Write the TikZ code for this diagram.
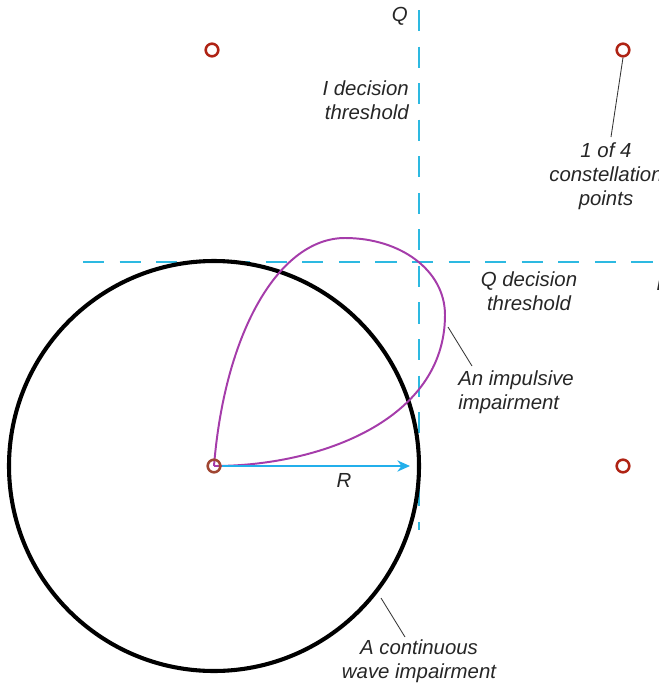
\documentclass[tikz,border=0pt]{standalone}
\usepackage{fontspec}
\setmainfont{Liberation Sans}
\definecolor{ThreshCyan}{RGB}{45,185,225}
\definecolor{ArrowCyan}{RGB}{35,175,235}
\definecolor{ImpPurple}{RGB}{165,60,170}
\definecolor{PointRed}{RGB}{175,35,20}
\definecolor{CenterBrown}{RGB}{160,70,50}
\usetikzlibrary{arrows.meta, positioning, calc}

\begin{document}
\begin{tikzpicture}[
        x=0.025cm, y=-0.025cm,
        threshold/.style={draw=ThreshCyan, line width=1.3pt, dash pattern=on 15pt off 11pt},
        constpt/.style={circle, draw=#1, line width=1.8pt, inner sep=0pt, minimum size=9pt},
        callout/.style={font=\fontsize{14.5}{17}\selectfont\itshape, inner sep=0pt, text=black!85},
        leader/.style={draw=black!80, line width=0.6pt},
    ]
        \useasboundingbox (0,0) rectangle (659,686);
        % decision thresholds
        \coordinate (qtop) at (419,10);
        \coordinate (qbot) at (419,530);
        \coordinate (ileft) at (83,262);
        \coordinate (iright) at (662,262);
        \draw[threshold] (qtop) -- (qbot);
        \draw[threshold] (ileft) -- (iright);
        \node[callout, anchor=north east] (qaxis) at (408,7) {Q};
        \node[callout, anchor=west] (iaxis) at (656,283) {I};
        % continuous wave impairment
        \node[circle, draw=black, line width=2.9pt, minimum size=410*0.025cm, inner sep=0pt] (cw) at (214,466) {};
        % impulsive impairment
        \draw[ImpPurple, line width=1.4pt] (214,466)
            .. controls (225,330) and (280,238) .. (345,238)
            .. controls (400,238) and (445,270) .. (445,315)
            .. controls (445,420) and (320,466) .. (214,466);
        % constellation points
        \node[constpt=PointRed] (pt1) at (212,50) {};
        \node[constpt=PointRed] (pt2) at (623,50) {};
        \node[constpt=PointRed] (pt3) at (623,466) {};
        \node[constpt=CenterBrown] (pt0) at (214,466) {};
        \coordinate (rend) at (410,466);
        \draw[-{Stealth[length=9pt, width=8pt]}, ArrowCyan, line width=1.3pt] (pt0.east) -- (rend);
        \node[callout] (rlbl) at (344,480) {R};
        % labels
        \node[callout, align=right, anchor=east] (ithr) at (409,100) {I decision\\threshold};
        \node[callout, align=center] (qthr) at (529,291) {Q decision\\threshold};
        \node[callout, align=center] (ptlbl) at (606,176) {1 of 4\\constellation\\points};
        \node[callout, align=left, anchor=west] (implbl) at (458,392) {An impulsive\\impairment};
        \node[callout, align=center] (cwlbl) at (419,661) {A continuous\\wave impairment};
        \coordinate (ptlead) at (611,137);
        \coordinate (imptip) at (448,327);
        \coordinate (implead) at (472,366);
        \coordinate (cwtip) at (381,598);
        \coordinate (cwlead) at (405,637);
        \draw[leader] (pt2.south) -- (ptlead);
        \draw[leader] (imptip) -- (implead);
        \draw[leader] (cwtip) -- (cwlead);
    \end{tikzpicture}
\end{document}
